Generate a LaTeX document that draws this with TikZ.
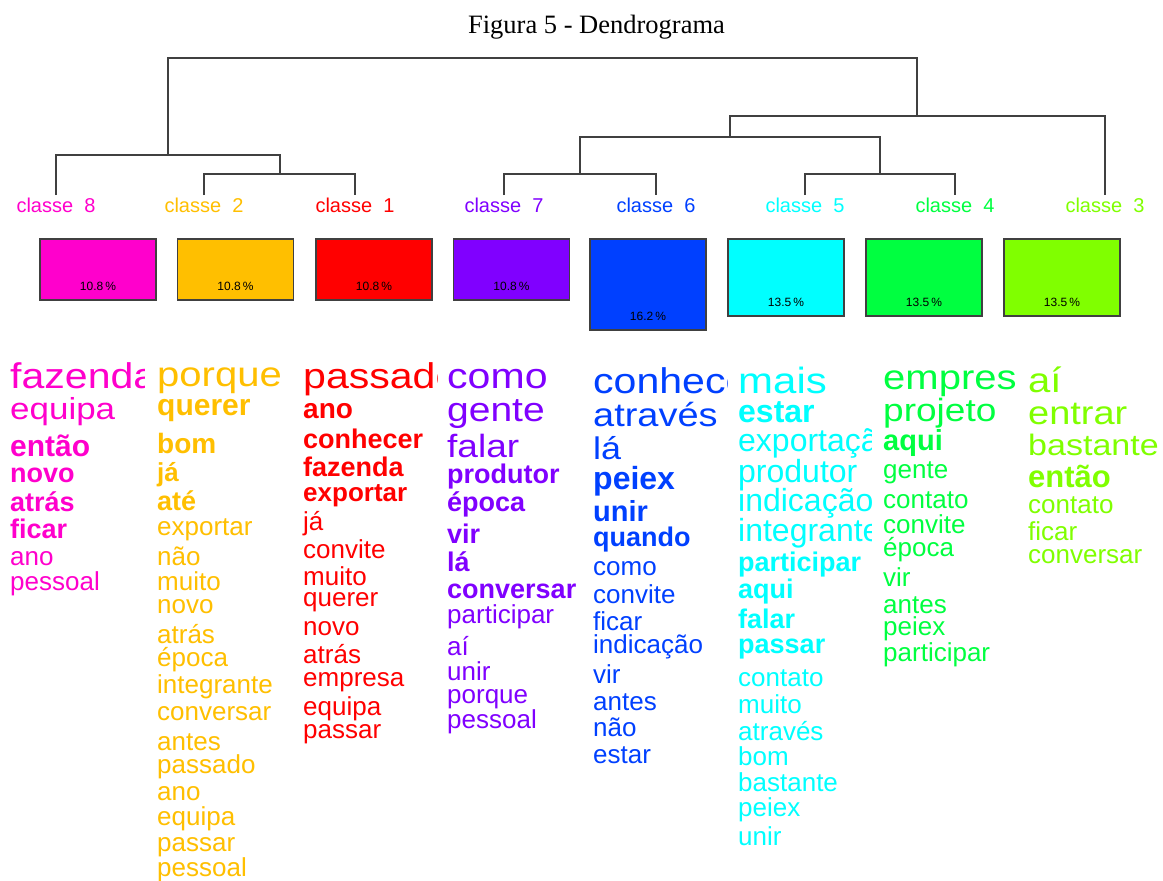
\documentclass[tikz,border=0pt]{standalone}
\usepackage{fontspec}
\setmainfont{Liberation Serif}
\newfontfamily\nuvem{Liberation Sans}
\newfontfamily\larga[FakeStretch=1.15]{Liberation Sans}
\usetikzlibrary{positioning}
\definecolor{c8}{HTML}{FF00CC}
\definecolor{c2}{HTML}{FFBF00}
\definecolor{c1}{HTML}{FF0000}
\definecolor{c7}{HTML}{8000FF}
\definecolor{c6}{HTML}{0040FF}
\definecolor{c5}{HTML}{00FFFF}
\definecolor{c4}{HTML}{00FF40}
\definecolor{c3}{HTML}{80FF00}
\tikzset{
  ramo/.style={draw=black!75, line width=1.5pt},
  rotulo/.style={inner sep=0pt, font=\nuvem\fontsize{20}{20}\selectfont},
  caixa/.style={draw=black!75, line width=1.5pt, minimum width=116pt, inner sep=0pt, anchor=north},
  pct/.style={inner sep=0pt, font=\nuvem\fontsize{12}{12}\selectfont},
  palavra/.style={inner sep=0pt, anchor=mid west},
}
\begin{document}
\begin{tikzpicture}[x=1pt, y=-1pt]
\useasboundingbox (0,0) rectangle (1163,881);
\fill[white] (0,0) rectangle (1163,881);
\node[font=\fontsize{26.5}{30}\selectfont, anchor=base, inner sep=0pt] (titulo) at (596.5,33) {Figura 5 - Dendrograma};

% classes e dendrograma
\foreach \x/\n in {56/8, 204/2, 355/1, 504/7, 656/6, 805/5, 955/4, 1105/3} {
  \coordinate (t\n) at (\x,195);
  \node[rotulo, text=c\n] (cl\n) at (\x,205) {classe\ \ \n};
}
\coordinate (m21) at (280,174);
\coordinate (m821) at (168,155);
\coordinate (m76) at (580,174);
\coordinate (m54) at (880,174);
\coordinate (m7654) at (730,137);
\coordinate (m76543) at (917,116);
\coordinate (raiz) at (542,58);
\draw[ramo] (t2) |- (m21) -| (t1);
\draw[ramo] (t8) |- (m821) -| (m21);
\draw[ramo] (t7) |- (m76) -| (t6);
\draw[ramo] (t5) |- (m54) -| (t4);
\draw[ramo] (m76) |- (m7654) -| (m54);
\draw[ramo] (m7654) |- (m76543) -| (t3);
\draw[ramo] (m821) |- (raiz) -| (m76543);

\foreach \x/\n/\h/\p in {98/8/61/10.8, 235.5/2/61/10.8, 374/1/61/10.8, 511.5/7/61/10.8, 648/6/91/16.2, 786/5/77/13.5, 924/4/77/13.5, 1062/3/77/13.5} {
  \node[caixa, fill=c\n, minimum height=\h pt] (box\n) at (\x,238) {};
  \node[pct, above=10pt of box\n.south] (pc\n) {\p\,\%};
}

% palavras
\begin{scope}
\clip (7,340) rectangle (144.5,881);
\foreach \y/\s/\f/\t [count=\i] in {378/35.7/\larga/fazenda, 411/30.4/\larga/equipa, 448/30/\bfseries/então, 474/27/\bfseries/novo, 503/27/\bfseries/atrás, 530/27/\bfseries/ficar, 557/26/\mdseries/ano, 582/26/\mdseries/pessoal}
  \node[palavra, text=c8, yshift={-0.22*\s pt}, font=\nuvem\fontsize{\s}{\s}\selectfont\f] (p8-\i) at (10,\y) {\t};
\end{scope}
\begin{scope}
\clip (153,340) rectangle (292,881);
\foreach \y/\s/\f/\t [count=\i] in {377/34.8/\larga/porque, 407/30/\bfseries/querer, 445/28/\bfseries/bom, 473/26/\bfseries/já, 502/27/\bfseries/até, 527/26/\mdseries/exportar, 557/26/\mdseries/não, 582/26/\mdseries/muito, 605/26/\mdseries/novo, 635/26/\mdseries/atrás, 658/26/\mdseries/época, 685/26/\mdseries/integrante, 712/26/\mdseries/conversar, 742/26/\mdseries/antes, 765/26/\mdseries/passado, 792/26/\mdseries/ano, 817/26/\mdseries/equipa, 843/26/\mdseries/passar, 868/26/\mdseries/pessoal}
  \node[palavra, text=c2, yshift={-0.22*\s pt}, font=\nuvem\fontsize{\s}{\s}\selectfont\f] (p2-\i) at (157,\y) {\t};
\end{scope}
\begin{scope}
\clip (299,340) rectangle (437,881);
\foreach \y/\s/\f/\t [count=\i] in {378/35.7/\larga/passado, 410/28/\bfseries/ano, 440/27/\bfseries/conhecer, 468/27/\bfseries/fazenda, 493/26/\bfseries/exportar, 522/26/\mdseries/já, 550/26/\mdseries/convite, 577/26/\mdseries/muito, 598/26/\mdseries/querer, 627/26/\mdseries/novo, 655/26/\mdseries/atrás, 678/26/\mdseries/empresa, 707/26/\mdseries/equipa, 730/26/\mdseries/passar}
  \node[palavra, text=c1, yshift={-0.22*\s pt}, font=\nuvem\fontsize{\s}{\s}\selectfont\f] (p1-\i) at (303,\y) {\t};
\end{scope}
\begin{scope}
\clip (443,340) rectangle (583,881);
\foreach \y/\s/\f/\t [count=\i] in {378/35.7/\larga/como, 412/33.9/\larga/gente, 448/32.2/\larga/falar, 475/27/\bfseries/produtor, 503/27/\bfseries/época, 535/27/\bfseries/vir, 563/27/\bfseries/lá, 590/27/\bfseries/conversar, 615/26/\mdseries/participar, 647/26/\mdseries/aí, 672/26/\mdseries/unir, 695/26/\mdseries/porque, 720/26/\mdseries/pessoal}
  \node[palavra, text=c7, yshift={-0.22*\s pt}, font=\nuvem\fontsize{\s}{\s}\selectfont\f] (p7-\i) at (447,\y) {\t};
\end{scope}
\begin{scope}
\clip (589,340) rectangle (727.5,881);
\foreach \y/\s/\f/\t [count=\i] in {383/35.7/\larga/conhecer, 417/33/\larga/através, 450/31.3/\larga/lá, 480/32/\bfseries/peiex, 513/29/\bfseries/unir, 538/27/\bfseries/quando, 567/26/\mdseries/como, 595/26/\mdseries/convite, 622/26/\mdseries/ficar, 645/26/\mdseries/indicação, 675/26/\mdseries/vir, 702/26/\mdseries/antes, 728/26/\mdseries/não, 755/26/\mdseries/estar}
  \node[palavra, text=c6, yshift={-0.22*\s pt}, font=\nuvem\fontsize{\s}{\s}\selectfont\f] (p6-\i) at (593,\y) {\t};
\end{scope}
\begin{scope}
\clip (734,340) rectangle (871,881);
\foreach \y/\s/\f/\t [count=\i] in {383/36.5/\larga/mais, 413/32/\bfseries/estar, 442/32/\mdseries/exportação, 473/32/\mdseries/produtor, 502/32/\mdseries/indicação, 532/32/\mdseries/integrante, 563/27/\bfseries/participar, 590/27/\bfseries/aqui, 620/27/\bfseries/falar, 645/27/\bfseries/passar, 678/26/\mdseries/contato, 705/26/\mdseries/muito, 732/26/\mdseries/através, 757/26/\mdseries/bom, 783/26/\mdseries/bastante, 808/26/\mdseries/peiex, 837/26/\mdseries/unir}
  \node[palavra, text=c5, yshift={-0.22*\s pt}, font=\nuvem\fontsize{\s}{\s}\selectfont\f] (p5-\i) at (738,\y) {\t};
\end{scope}
\begin{scope}
\clip (879,340) rectangle (1017,881);
\foreach \y/\s/\f/\t [count=\i] in {380/34.8/\larga/empresa, 412/32.2/\larga/projeto, 442/29/\bfseries/aqui, 470/26/\mdseries/gente, 500/26/\mdseries/contato, 525/26/\mdseries/convite, 548/26/\mdseries/época, 578/26/\mdseries/vir, 605/26/\mdseries/antes, 627/26/\mdseries/peiex, 653/26/\mdseries/participar}
  \node[palavra, text=c4, yshift={-0.22*\s pt}, font=\nuvem\fontsize{\s}{\s}\selectfont\f] (p4-\i) at (883,\y) {\t};
\end{scope}
\begin{scope}
\clip (1023,340) rectangle (1163,881);
\foreach \y/\s/\f/\t [count=\i] in {383/34.8/\larga/aí, 415/33/\larga/entrar, 447/29.6/\larga/bastante, 478/31/\bfseries/então, 505/26/\mdseries/contato, 532/26/\mdseries/ficar, 555/26/\mdseries/conversar}
  \node[palavra, text=c3, yshift={-0.22*\s pt}, font=\nuvem\fontsize{\s}{\s}\selectfont\f] (p3-\i) at (1028,\y) {\t};
\end{scope}
\end{tikzpicture}
\end{document}
